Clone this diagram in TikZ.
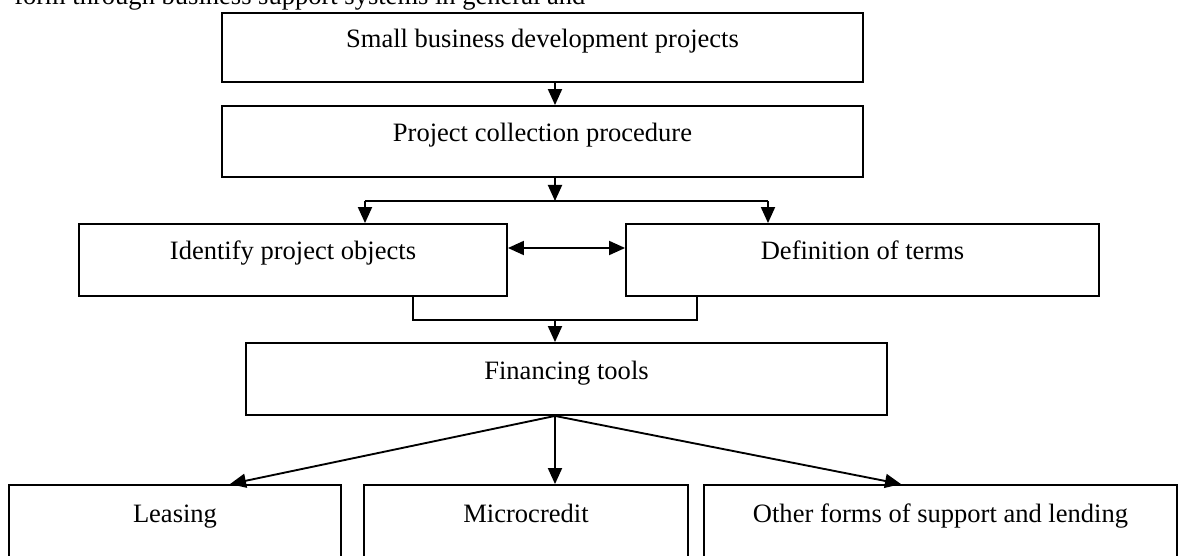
\documentclass[tikz,border=0pt]{standalone}
\usepackage{fontspec}
\setmainfont{Liberation Serif}
\usetikzlibrary{arrows.meta, positioning}

\begin{document}
\begin{tikzpicture}[x=0.75pt, y=-0.75pt]
    \tikzset{
        box/.style = {rectangle, draw, line width=1.4pt, inner sep=0pt, text height=14pt, text depth=14pt, font=\fontsize{19.9}{24}\selectfont},
        line/.style = {draw, line width=1.4pt, -{Triangle[length=12pt, width=10.5pt]}},
        twoway/.style = {draw, line width=1.4pt, {Triangle[length=12pt, width=10.5pt]}-{Triangle[length=12pt, width=10.5pt]}},
        link/.style = {draw, line width=1.4pt}
    }

    \path[use as bounding box, fill=white] (0,0) rectangle (1186,556);

    \node[anchor=base west, inner sep=0pt, font=\fontsize{19.9}{24}\selectfont](intro) at (14,5){form through business support systems in general and};

    \node[box, minimum width=480.75pt, minimum height=51.75pt](projects) at (542.5,47.5){Small business development projects};
    \node[box, minimum width=480.75pt, minimum height=53.25pt](collect) at (542.5,141.5){Project collection procedure};

    \node[box, minimum width=321pt, minimum height=54pt](objects) at (293,260){Identify project objects};
    \node[box, minimum width=354.75pt, minimum height=54pt](terms) at (862.5,260){Definition of terms};

    \node[box, minimum width=480.75pt, minimum height=54pt](tools) at (566.5,379){Financing tools};

    \node[box, minimum width=249pt, minimum height=55.5pt](leasing) at (175,522){Leasing};
    \node[box, minimum width=243pt, minimum height=55.5pt](micro) at (526,522){Microcredit};
    \node[box, minimum width=354.75pt, minimum height=55.5pt](other) at (940.5,522){Other forms of support and lending};

    % branch and join points
    \coordinate (spine) at (555,0);
    \coordinate (fork) at (555,201);
    \coordinate (forkL) at (365,201);
    \coordinate (forkR) at (768,201);
    \coordinate (midrow) at (0,248);
    \coordinate (joinL) at (413,320);
    \coordinate (join) at (555,320);
    \coordinate (joinR) at (697,320);
    \coordinate (tipL) at (230,0);
    \coordinate (tipR) at (901,0);

    \path [line] (projects.south -| spine) -- (collect.north -| spine);
    \path [line] (collect.south -| spine) -- (fork);
    \path [link] (forkL) -- (forkR);
    \path [line] (forkL) -- (objects.north -| forkL);
    \path [line] (forkR) -- (terms.north -| forkR);

    \path [twoway] (objects.east |- midrow) -- (terms.west |- midrow);

    \path [link] (objects.south -| joinL) -- (joinL) -- (joinR) -- (terms.south -| joinR);
    \path [line] (join) -- (tools.north -| join);

    \path [line] (tools.south -| spine) -- (leasing.north -| tipL);
    \path [line] (tools.south -| spine) -- (micro.north -| spine);
    \path [line] (tools.south -| spine) -- (other.north -| tipR);

\end{tikzpicture}
\end{document}
